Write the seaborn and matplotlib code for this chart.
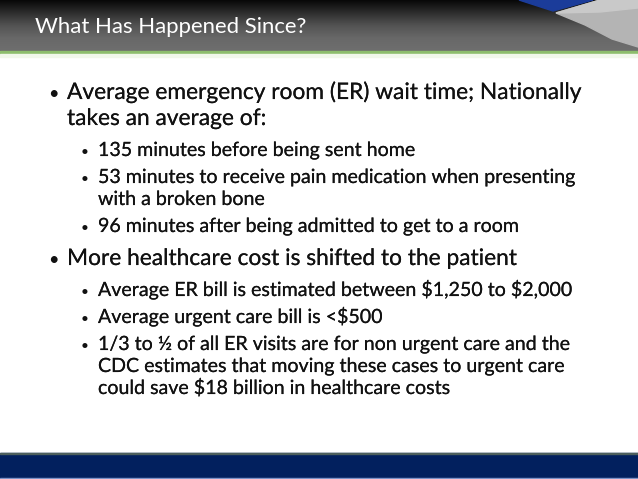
import numpy as np
import pandas as pd
import matplotlib.pyplot as plt
import matplotlib.colors as mcolors
import matplotlib.patheffects as pe
import seaborn as sns

# Contenu de la diapositive
title = "What Has Happened Since?"
levels = [1, 2, 2, 2, 1, 2, 2, 2]
items = [
    ["Average emergency room (ER) wait time; Nationally", "takes an average of:"],
    ["135 minutes before being sent home"],
    ["53 minutes to receive pain medication when presenting", "with a broken bone"],
    ["96 minutes after being admitted to get to a room"],
    ["More healthcare cost is shifted to the patient"],
    ["Average ER bill is estimated between $1,250 to $2,000"],
    ["Average urgent care bill is <$500"],
    ["1/3 to ½ of all ER visits are for non urgent care and the",
     "CDC estimates that moving these cases to urgent care",
     "could save $18 billion in healthcare costs"],
]

sns.set_theme(style="white")
plt.rcParams["font.family"] = ["Lato", "DejaVu Sans"]

W, H = 638, 479
fig = plt.figure(figsize=(W / 100, H / 100), dpi=100)
ax = fig.add_axes([0, 0, 1, 1])
ax.set_xlim(0, W)
ax.set_ylim(H, 0)
ax.axis("off")

# Bandeau du haut (dégradé gris)
cmap = mcolors.LinearSegmentedColormap.from_list(
    "hdr", ["#080808", "#2e2e2e", "#535353", "#686868", "#6e6e6e"])
grad = np.linspace(0, 1, 60).reshape(-1, 1)
ax.imshow(grad, extent=[0, W, 51, 0], cmap=cmap, aspect="auto", zorder=0)
ax.fill([519, 593, 553], [0, 0, 11], color="#1b3c9a", zorder=1)
ax.fill([556, 600, 638, 638, 612, 585], [13, 0, 0, 47, 39, 25],
        color="#b4b4b4", zorder=1)
ax.fill([556, 600, 638, 638, 600], [13, 0, 0, 8, 12],
        color="#c9c9c9", zorder=1)
ax.axhspan(50.5, 53.5, color="#8dbd6c", zorder=2)
ax.axhspan(53.5, 57, color="#f1f7ea", zorder=2)

# Bandeau du bas
ax.axhspan(452.5, 479, color="#02205e", zorder=2)
ax.axhspan(452.5, 454, color="#4d5f5c", zorder=3)
ax.axhspan(477.8, 479, color="#7d92c8", zorder=3)

renderer = fig.canvas.get_renderer()


def fit_size(text, target_px, size0=14):
    t = ax.text(0, 0, text, fontsize=size0, parse_math=False)
    w = t.get_window_extent(renderer=renderer).width
    t.remove()
    return size0 * target_px / w


# léger épaississement du trait (Calibri paraît un peu plus gras)
heavy = [pe.withStroke(linewidth=0.1, foreground="#111111")]

title_size = fit_size(title, 272)
ax.text(35, 32.5, title, color="white", fontsize=title_size,
        va="baseline", ha="left", parse_math=False, zorder=4)

size = {1: fit_size(items[0][0], 516), 2: fit_size(items[2][0], 479)}
text_x = {1: 67, 2: 98}
bullet_x = {1: 53, 2: 85}
bullet_scale = {1: 0.8, 2: 0.7}
line_step = {1: 26, 2: 22}
para_gap = {1: 33, 2: 27}
ink = "#111111"

y = 99
for i, (lvl, lines) in enumerate(zip(levels, items)):
    if i > 0:
        y += para_gap[lvl] + (4 if levels[i - 1] == 1 and lvl == 2 else 0)
    ax.text(bullet_x[lvl], y, "•", fontsize=size[lvl] * bullet_scale[lvl],
            color=ink, ha="center", va="baseline", zorder=4)
    for j, line in enumerate(lines):
        if j > 0:
            y += line_step[lvl]
        ax.text(text_x[lvl], y, line, fontsize=size[lvl], color=ink,
                ha="left", va="baseline", parse_math=False, zorder=4,
                path_effects=heavy)

fig.savefig("out.png", dpi=100)
